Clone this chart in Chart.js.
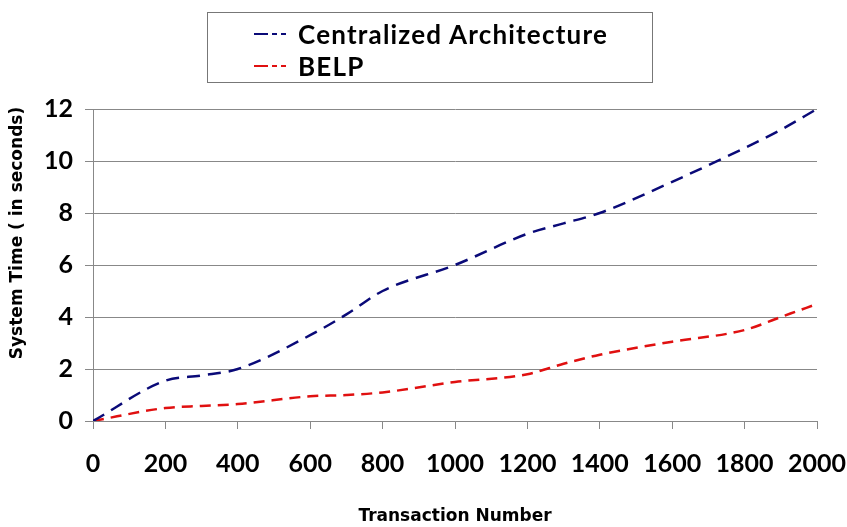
<!DOCTYPE html>
<html>
<head>
<meta charset="utf-8">
<script src="https://cdn.jsdelivr.net/npm/chart.js@4.4.1/dist/chart.umd.min.js"></script>
<style>
  body { margin: 0; background: #fff; }
  #wrap { position: relative; width: 847px; height: 527px; }
  #legend {
    position: absolute; left: 207px; top: 12px; width: 444px; height: 69px;
    border: 1px solid #777; box-sizing: content-box;
    font-family: Lato, "Open Sans", sans-serif; font-weight: bold; font-size: 26px; letter-spacing: 1.2px; color: #000;
  }
  .item { position: absolute; left: 46px; display: flex; align-items: center; }
  .item svg { margin-right: 8px; }
</style>
</head>
<body>
<div id="wrap">
  <canvas id="chart" width="847" height="527"></canvas>
  <div id="legend"></div>
</div>
<script>
const transactions = [0, 200, 300, 400, 600, 700, 800, 1000, 1200, 1300, 1400, 1600, 1800, 1900, 2000];
const centralized  = [0, 1.55, 1.75, 2.0, 3.3, 4.1, 5.0, 6.0, 7.2, 7.6, 8.0, 9.2, 10.5, 11.2, 12.0];
const belp         = [0, 0.5, 0.58, 0.65, 0.95, 1.0, 1.1, 1.5, 1.8, 2.2, 2.55, 3.05, 3.5, 4.0, 4.5];
const seriesNames  = ['Centralized Architecture', 'BELP'];
const seriesColors = ['#0a0a78', '#e01010'];
const yTitle = 'System Time ( in seconds)';

const toPoints = vals => vals.map((v, i) => ({ x: transactions[i], y: v }));

// legend drawn as html, left aligned rows inside a box
const legendEl = document.getElementById('legend');
seriesNames.forEach((name, i) => {
  const row = document.createElement('div');
  row.className = 'item';
  row.style.top = (i === 0 ? 5 : 37) + 'px';
  row.innerHTML = '<svg width="36" height="6"><line x1="0" y1="3" x2="36" y2="3" stroke="' +
    seriesColors[i] + '" stroke-width="2" stroke-dasharray="14 4 5 4 5"/></svg><span>' + name + '</span>';
  legendEl.appendChild(row);
});

// y title sits a bit above the middle of the axis in the original
const yTitlePlugin = {
  id: 'yTitle',
  afterDraw(chart) {
    const c = chart.ctx;
    c.save();
    c.translate(18, 233);
    c.rotate(-Math.PI / 2);
    c.font = 'bold 17px "DejaVu Sans"';
    c.fillStyle = '#000';
    c.textAlign = 'center';
    c.textBaseline = 'middle';
    c.fillText(yTitle, 0, 0);
    c.restore();
  }
};

const ctx = document.getElementById('chart').getContext('2d');
new Chart(ctx, {
  type: 'line',
  data: {
    datasets: [
      { label: seriesNames[0], data: toPoints(centralized), borderColor: seriesColors[0], borderDash: [13, 8] },
      { label: seriesNames[1], data: toPoints(belp), borderColor: seriesColors[1], borderDash: [11, 7] }
    ].map(d => Object.assign(d, { borderWidth: 2.5, pointRadius: 0, fill: false, cubicInterpolationMode: 'monotone' }))
  },
  plugins: [yTitlePlugin],
  options: {
    responsive: false,
    animation: false,
    layout: { padding: { top: 109, right: 0, left: 0, bottom: 0 } },
    plugins: { legend: { display: false }, tooltip: { enabled: false } },
    scales: {
      x: {
        type: 'linear', min: 0, max: 2000,
        afterFit: s => { s.height = 106; s.paddingRight = 30; s.paddingLeft = 0; },
        grid: { drawOnChartArea: false, drawTicks: true, tickLength: 8, color: '#888' },
        border: { color: '#888' },
        ticks: { stepSize: 200, padding: 20, color: '#000', callback: v => String(v),
                 font: { family: 'Lato', weight: 'bold', size: 25 } },
        title: { display: true, text: 'Transaction Number', color: '#000', padding: { bottom: 0, top: 0 },
                 font: { family: 'DejaVu Sans', weight: 'bold', size: 17 } }
      },
      y: {
        min: 0, max: 12,
        afterFit: s => { s.width = 93; },
        grid: { color: '#888', tickLength: 8 },
        border: { color: '#888' },
        ticks: { stepSize: 2, padding: 12, color: '#000', font: { family: 'Lato', weight: 'bold', size: 25 } }
      }
    }
  }
});
</script>
</body>
</html>
